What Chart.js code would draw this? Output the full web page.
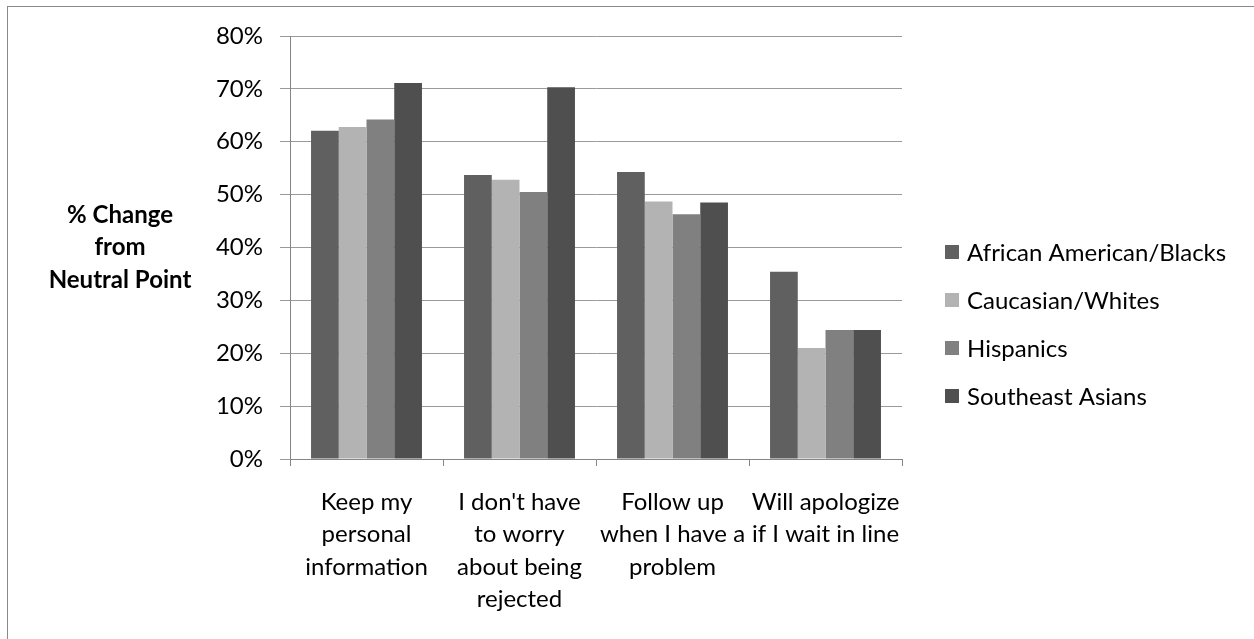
<!DOCTYPE html>
<html>
<head>
<meta charset="utf-8">
<script src="https://cdn.jsdelivr.net/npm/chart.js@4/dist/chart.umd.min.js"></script>
<style>
  html, body { margin: 0; padding: 0; background: #fff; }
  #wrap { position: relative; width: 1254px; height: 639px; overflow: hidden; }
  #frame { position: absolute; left: 7px; top: 6px; width: 1400px; height: 800px; border-left: 1px solid #8a8a8a; border-top: 1px solid #8a8a8a; }
  #c { position: absolute; left: 0; top: 0; }
</style>
</head>
<body>
<div id="wrap">
  <div id="frame"></div>
  <canvas id="c" width="1254" height="639"></canvas>
</div>
<script>
const categories = [
  ["Keep my", "personal", "information"],
  ["I don't have", "to worry", "about being", "rejected"],
  ["Follow up", "when I have a", "problem"],
  ["Will apologize", "if I wait in line"]
];
const seriesNames = ["African American/Blacks", "Caucasian/Whites", "Hispanics", "Southeast Asians"];
const seriesColors = ["#606060", "#b3b3b3", "#808080", "#4f4f4f"];
const africanAmerican = [0.621, 0.537, 0.543, 0.354];
const caucasian = [0.628, 0.528, 0.487, 0.210];
const hispanics = [0.642, 0.505, 0.463, 0.244];
const southeastAsians = [0.711, 0.703, 0.485, 0.244];
const yTickValues = [0, 0.1, 0.2, 0.3, 0.4, 0.5, 0.6, 0.7, 0.8];
const yTitleLines = ["% Change", "from", "Neutral Point"];

const FONT = "Lato";
const seriesValues = [africanAmerican, caucasian, hispanics, southeastAsians];

const customDecor = {
  id: 'customDecor',
  afterDraw(chart) {
    const ctx = chart.ctx;
    ctx.save();
    // Y axis title
    ctx.fillStyle = '#000';
    ctx.font = 'bold 24px ' + FONT;
    ctx.textAlign = 'center';
    ctx.textBaseline = 'middle';
    yTitleLines.forEach((t, i) => ctx.fillText(t, 120, 215 + i * 32.5));
    // Legend
    ctx.font = '24px ' + FONT;
    ctx.textAlign = 'left';
    chart.data.datasets.forEach((ds, i) => {
      const y = 252 + i * 48;
      ctx.fillStyle = ds.backgroundColor;
      ctx.fillRect(945, y - 7, 14, 14);
      ctx.fillStyle = '#000';
      ctx.fillText(ds.label, 967, y + 1);
    });
    ctx.restore();
  }
};

new Chart(document.getElementById('c'), {
  type: 'bar',
  data: {
    labels: categories,
    datasets: seriesNames.map((n, i) => ({
      label: n,
      data: seriesValues[i],
      backgroundColor: seriesColors[i],
      borderWidth: 0,
      categoryPercentage: 0.725,
      barPercentage: 1.0
    }))
  },
  options: {
    responsive: false,
    animation: false,
    devicePixelRatio: 1,
    layout: { padding: { left: 0, top: 36, right: 352, bottom: 0 } },
    plugins: { legend: { display: false }, tooltip: { enabled: false } },
    scales: {
      x: {
        grid: { drawOnChartArea: false, drawTicks: true, tickLength: 7, color: '#868686', offset: true },
        border: { color: '#868686', width: 1 },
        ticks: { color: '#000', font: { family: FONT, size: 24, lineHeight: 1.35 }, padding: 20, maxRotation: 0, autoSkip: false },
        afterFit(scale) { scale.height = 180; }
      },
      y: {
        min: 0, max: 0.8,
        afterBuildTicks(scale) { scale.ticks = yTickValues.map(v => ({ value: v })); },
        grid: { color: '#9a9a9a', tickLength: 10, drawTicks: true },
        border: { color: '#868686', width: 1 },
        ticks: { color: '#000', font: { family: FONT, size: 24 }, padding: 17,
                 callback: v => Math.round(v * 100) + '%' },
        afterFit(scale) { scale.width = 290; }
      }
    }
  },
  plugins: [customDecor]
});
</script>
</body>
</html>
